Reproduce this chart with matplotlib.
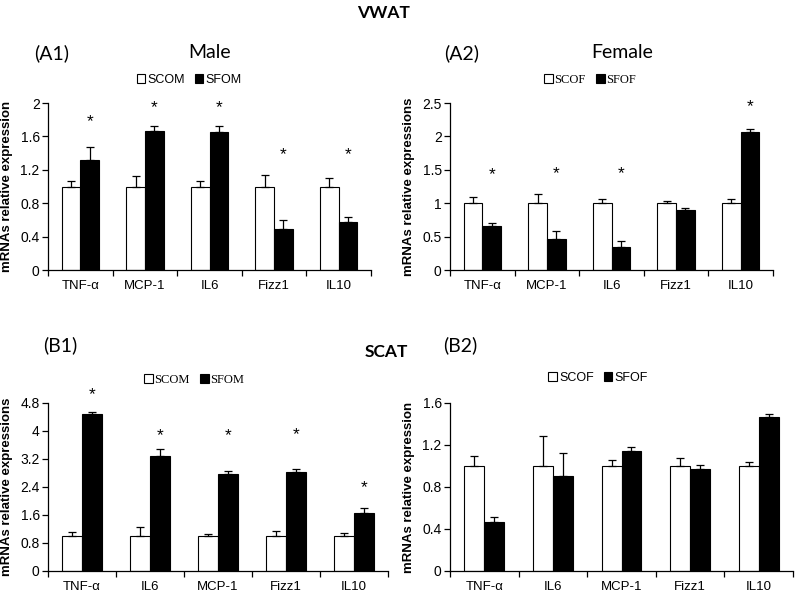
import matplotlib
matplotlib.use("Agg")
import matplotlib.pyplot as plt
from matplotlib.patches import Patch
from matplotlib.ticker import FuncFormatter
import numpy as np

plt.rcParams['font.family'] = ['Liberation Sans', 'DejaVu Sans']

# --- data ---
genes_a = ["TNF-α", "MCP-1", "IL6", "Fizz1", "IL10"]
genes_b = ["TNF-α", "IL6", "MCP-1", "Fizz1", "IL10"]

# A1: VWAT, male
scom_a1 = [1.0, 1.0, 1.0, 1.0, 1.0]
scom_a1_err = [0.07, 0.12, 0.06, 0.14, 0.10]
sfom_a1 = [1.32, 1.67, 1.65, 0.49, 0.58]
sfom_a1_err = [0.15, 0.05, 0.08, 0.11, 0.06]
stars_a1 = [1.78, 1.94, 1.94, 1.38, 1.38]

# A2: VWAT, female
scof_a2 = [1.0, 1.0, 1.0, 1.0, 1.0]
scof_a2_err = [0.09, 0.14, 0.06, 0.03, 0.06]
sfof_a2 = [0.66, 0.46, 0.34, 0.90, 2.07]
sfof_a2_err = [0.05, 0.13, 0.10, 0.035, 0.04]
stars_a2 = [1.43, 1.45, 1.45, None, 2.44]

# B1: SCAT, male
scom_b1 = [1.0, 1.0, 1.0, 1.0, 1.0]
scom_b1_err = [0.11, 0.27, 0.05, 0.14, 0.08]
sfom_b1 = [4.49, 3.29, 2.77, 2.84, 1.65]
sfom_b1_err = [0.05, 0.20, 0.09, 0.07, 0.14]
stars_b1 = [5.04, 3.86, 3.86, 3.91, 2.37]

# B2: SCAT, female
scof_b2 = [1.0, 1.0, 1.0, 1.0, 1.0]
scof_b2_err = [0.10, 0.29, 0.06, 0.08, 0.04]
sfof_b2 = [0.47, 0.906, 1.145, 0.97, 1.463]
sfof_b2_err = [0.04, 0.22, 0.04, 0.04, 0.035]
stars_b2 = [None, None, None, None, None]

W, H = 797, 593
fig = plt.figure(figsize=(W / 100, H / 100), dpi=100)


def px_axes(x0, x1, ytop, ybot):
    return fig.add_axes([x0 / W, 1 - ybot / H, (x1 - x0) / W, (ybot - ytop) / H])


def panel(ax, cats, ctrl, ctrl_err, fed, fed_err, stars, ymax, ystep, ylabel,
          names, leg_xy, leg_font):
    x = np.arange(len(cats))
    bw = 0.29
    ekw = dict(elinewidth=0.9, capthick=0.9, ecolor='black')
    ax.bar(x - bw / 2, ctrl, bw, color='white', edgecolor='black', linewidth=0.8,
           yerr=[np.zeros(len(ctrl)), ctrl_err], capsize=3, error_kw=ekw)
    ax.bar(x + bw / 2, fed, bw, color='black', edgecolor='black', linewidth=0.8,
           yerr=[np.zeros(len(fed)), fed_err], capsize=3, error_kw=ekw)
    for i, s in enumerate(stars):
        if s is not None:
            ax.text(x[i] + bw / 2, s, "*", ha='center', va='center', fontsize=12.5,
                    clip_on=False)
    ax.set_xlim(-0.5, len(cats) - 0.5)
    ax.set_ylim(0, ymax)
    ax.set_yticks(np.arange(0, ymax + ystep / 2, ystep))
    ax.yaxis.set_major_formatter(FuncFormatter(lambda v, p: f"{v:g}"))
    ax.set_xticks(x)
    ax.set_xticklabels(cats, fontsize=9.5)
    ax.set_xticks(np.arange(-0.5, len(cats)), minor=True)
    ax.tick_params(axis='x', which='major', length=0, pad=7)
    ax.tick_params(axis='x', which='minor', length=4, direction='out', width=0.9)
    ax.tick_params(axis='y', length=4, direction='out', width=0.9, labelsize=10, pad=2)
    for sp in ['top', 'right']:
        ax.spines[sp].set_visible(False)
    for sp in ['left', 'bottom']:
        ax.spines[sp].set_linewidth(0.9)
    ax.set_ylabel(ylabel, fontsize=9.5, fontweight='bold', labelpad=5)
    handles = [Patch(facecolor='white', edgecolor='black', linewidth=0.8),
               Patch(facecolor='black', edgecolor='black', linewidth=0.8)]
    fig.legend(handles, names, loc='center', bbox_to_anchor=(leg_xy[0] / W, 1 - leg_xy[1] / H),
               ncol=2, frameon=False, handlelength=0.7, handleheight=0.7,
               handletextpad=0.15, columnspacing=0.8,
               prop={'family': leg_font, 'size': 9})


ax_a1 = px_axes(48, 371, 103, 270)
panel(ax_a1, genes_a, scom_a1, scom_a1_err, sfom_a1, sfom_a1_err, stars_a1, 2.0, 0.4,
      "mRNAs relative expression", ["SCOM", "SFOM"], (189, 80), 'Liberation Sans')

ax_a2 = px_axes(450, 773, 103, 270)
panel(ax_a2, genes_a, scof_a2, scof_a2_err, sfof_a2, sfof_a2_err, stars_a2, 2.5, 0.5,
      "mRNAs relative expressions", ["SCOF", "SFOF"], (590, 80), 'Liberation Serif')

ax_b1 = px_axes(48, 388, 403, 571)
panel(ax_b1, genes_b, scom_b1, scom_b1_err, sfom_b1, sfom_b1_err, stars_b1, 4.8, 0.8,
      "mRNAs relative expressions", ["SCOM", "SFOM"], (194, 380), 'Liberation Serif')

ax_b2 = px_axes(450, 793, 403, 571)
panel(ax_b2, genes_b, scof_b2, scof_b2_err, sfof_b2, sfof_b2_err, stars_b2, 1.6, 0.4,
      "mRNAs relative expression", ["SCOF", "SFOF"], (598, 378), 'Liberation Sans')

# titles
def ftext(xp, yp, s, **kw):
    fig.text(xp / W, 1 - yp / H, s, ha='center', va='center', **kw)

ftext(384, 13, "VWAT", fontsize=12.5, fontweight='bold', family='Lato')
ftext(386, 352, "SCAT", fontsize=12.5, fontweight='bold', family='Lato')
ftext(52, 53, "(A1)", fontsize=14, family='Lato')
ftext(210, 53, "Male", fontsize=14, family='Lato')
ftext(462, 53, "(A2)", fontsize=14, family='Lato')
ftext(622, 53, "Female", fontsize=14, family='Lato')
ftext(60, 345, "(B1)", fontsize=14, family='Lato')
ftext(460, 345, "(B2)", fontsize=14, family='Lato')

fig.savefig("out.png", dpi=100)
